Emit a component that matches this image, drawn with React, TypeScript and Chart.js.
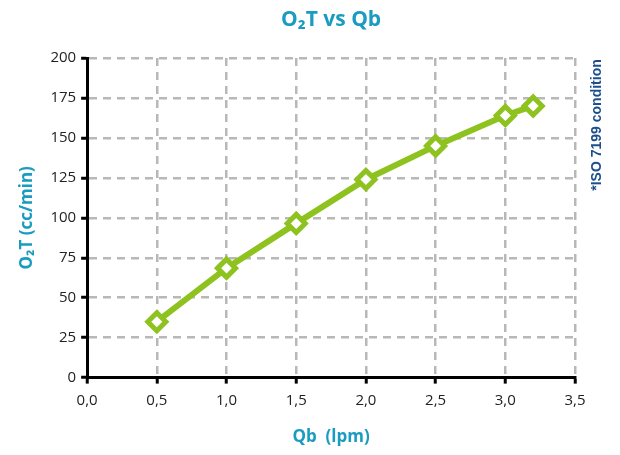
import React, { useEffect, useRef } from "react";
import { Chart, registerables } from "chart.js";

Chart.register(...registerables);

const qbValues = [0.5, 1.0, 1.5, 2.0, 2.5, 3.0, 3.2];
const o2tValues = [35, 68.5, 96.5, 124, 145, 164, 170];
const titleText = "O₂T vs Qb";
const xTitle = "Qb  (lpm)";
const yTitle = "O₂T (cc/min)";
const noteText = "*ISO 7199 condition";

const TEAL = "#1a9cc0";
const GREEN = "#8dc21f";

export default function App() {
  const ref = useRef<HTMLCanvasElement | null>(null);
  useEffect(() => {
    document.body.style.margin = "0";
    if (!ref.current) return;
    const textPlugin = {
      id: "texts",
      afterDraw(chart: any) {
        const { ctx, chartArea } = chart;
        ctx.save();
        ctx.fillStyle = TEAL;
        ctx.font = "bold 21px 'Open Sans', sans-serif";
        ctx.textAlign = "center";
        ctx.textBaseline = "middle";
        ctx.fillText(titleText, (chartArea.left + chartArea.right) / 2, 20);
        ctx.translate(597, 125);
        ctx.rotate(-Math.PI / 2);
        ctx.fillStyle = "#1d4f8c";
        ctx.font = "bold 14px 'Liberation Sans', sans-serif";
        ctx.fillText(noteText, 0, 0);
        ctx.restore();
      },
    };
    const gridOpts = {
      color: "#b8b8b8",
      lineWidth: 2.5,
      tickColor: "#000",
      tickLength: 6,
      tickWidth: 3,
    };
    const borderOpts = { color: "#000", width: 3, dash: [8, 6] };
    const chart = new Chart(ref.current, {
      type: "line",
      data: {
        datasets: [
          {
            data: qbValues.map((x, i) => ({ x, y: o2tValues[i] })),
            borderColor: GREEN,
            borderWidth: 6,
            pointStyle: "rectRot",
            pointRadius: 9,
            pointBorderWidth: 5,
            pointBackgroundColor: "#ffffff",
            pointBorderColor: GREEN,
            tension: 0,
          },
        ],
      },
      options: {
        animation: false,
        responsive: false,
        layout: { padding: { top: 58, right: 45, left: 13, bottom: 4 } },
        plugins: { legend: { display: false }, title: { display: false }, tooltip: { enabled: false } },
        scales: {
          x: {
            type: "linear",
            min: 0,
            max: 3.5,
            ticks: {
              stepSize: 0.5,
              color: "#222",
              font: { size: 15, family: "'Open Sans', sans-serif" },
              padding: 8,
              callback: (v: any) => Number(v).toFixed(1).replace(".", ","),
            },
            grid: gridOpts,
            border: borderOpts,
            title: {
              display: true,
              text: xTitle,
              color: TEAL,
              font: { size: 17, weight: "bold", family: "'Open Sans', sans-serif" },
              padding: { top: 9 },
            },
          },
          y: {
            min: 0,
            max: 200,
            ticks: {
              stepSize: 25,
              color: "#222",
              font: { size: 15, family: "'Open Sans', sans-serif" },
              padding: 5,
            },
            grid: gridOpts,
            border: borderOpts,
            title: {
              display: true,
              text: yTitle,
              color: TEAL,
              font: { size: 17, weight: "bold", family: "'Open Sans', sans-serif" },
              padding: { bottom: 8 },
            },
          },
        },
      },
      plugins: [textPlugin],
    } as any);
    return () => chart.destroy();
  }, []);
  return (
    <div style={{ width: 620, height: 455 }}>
      <canvas ref={ref} width={620} height={455} />
    </div>
  );
}
